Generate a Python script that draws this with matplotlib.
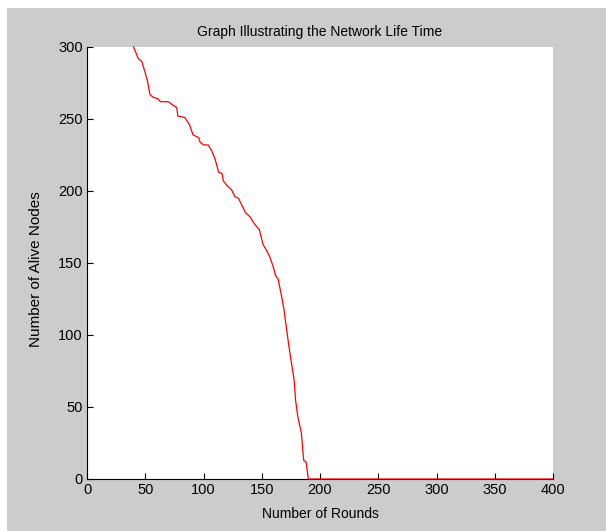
import matplotlib.pyplot as plt
from matplotlib.patches import Rectangle

# round number vs nodes still alive
rounds = [40, 44, 47, 50, 52, 54, 57, 61, 63, 70, 73, 77, 78, 84, 88, 91, 96, 97,
          100, 104, 107, 110, 113, 116, 117, 121, 124, 127, 130, 133, 136, 140,
          143, 147, 148, 151, 154, 157, 160, 162, 164, 167, 169, 171, 173, 175,
          177, 178, 179, 181, 184, 186, 188, 190, 400]
alive = [300, 292, 290, 282, 276, 267, 265, 264, 262, 262, 260, 258, 252, 251,
         246, 239, 237, 234, 232, 232, 228, 222, 213, 212, 207, 203, 201, 196,
         195, 190, 185, 182, 178, 174, 173, 163, 159, 154, 147, 141, 139, 127,
         118, 106, 94, 83, 73, 67, 55, 43, 32, 13, 12, 0, 0]

xticks = [0, 50, 100, 150, 200, 250, 300, 350, 400]
yticks = [0, 50, 100, 150, 200, 250, 300]

plt.rcParams['font.family'] = ['Liberation Sans', 'DejaVu Sans']
plt.rcParams['font.size'] = 10.5

fig = plt.figure(figsize=(6.06, 5.31), dpi=100)
fig.patch.set_facecolor('white')
# grey matlab-style window background
bg = Rectangle((7 / 606, 0), 1 - 7 / 606, 1 - 8 / 531,
               transform=fig.transFigure, facecolor='#cccccc',
               edgecolor='none', zorder=-10)
fig.add_artist(bg)

ax = fig.add_axes([87 / 606, 1 - 479 / 531, 466 / 606, 432 / 531])
ax.set_facecolor('white')
ax.plot(rounds, alive, color='red', linewidth=0.9, zorder=3, clip_on=False)

ax.set_xlim(0, 400)
ax.set_ylim(0, 300)
ax.set_xticks(xticks)
ax.set_yticks(yticks)
ax.tick_params(direction='in', length=4, width=0.8, pad=3)
for s in ['top', 'right']:
    ax.spines[s].set_visible(False)
for s in ['left', 'bottom']:
    ax.spines[s].set_linewidth(0.8)

ax.set_title('Graph Illustrating the Network Life Time', fontsize=10, pad=8)
ax.set_xlabel('Number of Rounds', fontsize=10, labelpad=7)
ax.set_ylabel('Number of Alive Nodes', fontsize=11)
ax.yaxis.set_label_coords(-0.094, 0.486)

fig.savefig('out.png', dpi=100)
